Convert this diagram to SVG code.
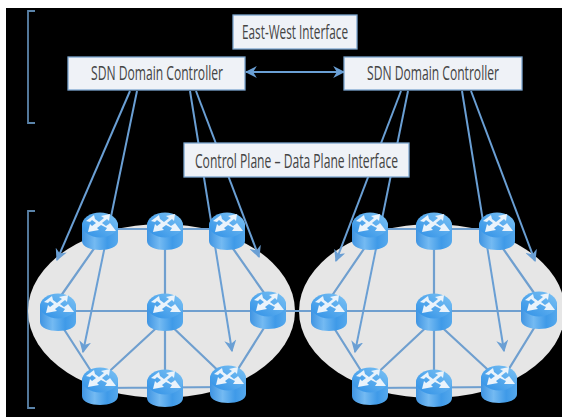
<svg xmlns="http://www.w3.org/2000/svg" width="562" height="417" viewBox="0 0 562 417">
<style>
.box{fill:#eff2f7;stroke:#7ba5cf;stroke-width:1.3}
.lbl{font-family:"Open Sans","Noto Sans",sans-serif;font-size:20px;fill:#444;text-anchor:middle}
.cl{stroke:#6a9fd4;stroke-width:2;fill:none}
.nl{stroke:#6f9fcf;stroke-width:2.200;fill:none}
.br{stroke:#5b84aa;stroke-width:1.800;fill:none}
.net{fill:#e6e6e6}
</style>
<defs>
<linearGradient id="body" x1="0" x2="1" y1="0" y2="0">
<stop offset="0" stop-color="#3f94e2"/><stop offset=".35" stop-color="#74baf2"/><stop offset=".7" stop-color="#3f9ae8"/><stop offset="1" stop-color="#55a8ec"/>
</linearGradient>
<linearGradient id="top" x1="0" x2="1" y1="1" y2="0">
<stop offset="0" stop-color="#2f90e6"/><stop offset="1" stop-color="#7cc2f4"/>
</linearGradient>
<filter id="soft" x="-10%" y="-10%" width="120%" height="120%"><feGaussianBlur stdDeviation="0.6"/></filter>
<marker id="ah" viewBox="0 0 10 10" refX="9" refY="5" markerWidth="12" markerHeight="12" markerUnits="userSpaceOnUse" orient="auto-start-reverse">
<path d="M0 0L10 5L0 10L3 5Z" fill="#6a9fd4"/>
</marker>
<g id="router">
<path d="M-18-7V10C-18 16-9 19 0 19S18 16 18 10V-7Z" fill="url(#body)"/>
<ellipse cy="-6" rx="18" ry="12.500" fill="url(#top)"/>
<path d="M-14-10l8-6 1 4 4 3 5-4-3-2 9-2-1 7-2-2-5 4 4 3 3-2 1-1 6 8-11 0 2-3-6-3-4 3 2 2-11 2 2-8 2 2 4-3-4-3-2 2z" fill="#eaf3fb" filter="url(#soft)"/>
</g>
</defs>
<rect width="562" height="417" fill="#fff"/>
<rect x="6" y="8" width="556" height="409" fill="#000"/>
<g id="brackets">
<path class="br" d="M35 11H28V123H35"/>
<path class="br" d="M35 211H28V408H35"/>
</g>
<g id="network-areas">
<ellipse id="domain-left" class="net" cx="161.500" cy="311" rx="133.500" ry="87"/>
<ellipse id="domain-right" class="net" cx="432" cy="311" rx="133" ry="87"/>
</g>
<g id="connectors">
<g id="links">
<path class="nl" d="M100 229H227M165 232V389M58 311H539M100 240L58 300M58 320L100 385M165 320L100 380M165 320L228 380M100 388L228 387M227 240L269 300M269 320L228 385"/>
<path class="nl" d="M370 229H497M434 232V389M370 240L329 300M329 320L370 385M434 320L370 380M434 320L499 380M370 388L499 387M497 240L539 300M539 320L499 385"/>
</g>
<g id="control-lines">
<path class="cl" marker-end="url(#ah)" d="M130 91L57 260"/>
<path class="cl" marker-end="url(#ah)" d="M137 91L83 352"/>
<path class="cl" marker-end="url(#ah)" d="M190 91L232 351"/>
<path class="cl" marker-end="url(#ah)" d="M196 91L259 257"/>
<path class="cl" marker-end="url(#ah)" d="M401 91L336 261"/>
<path class="cl" marker-end="url(#ah)" d="M408 91L355 352"/>
<path class="cl" marker-end="url(#ah)" d="M462 91L504 351"/>
<path class="cl" marker-end="url(#ah)" d="M471 91L535 261"/>
</g>
<path id="east-west-link" class="cl" marker-start="url(#ah)" marker-end="url(#ah)" d="M246 72H344"/>
</g>
<g id="routers-left">
<g id="r1"><use href="#router" x="100" y="231"/></g>
<g id="r2"><use href="#router" x="165" y="231"/></g>
<g id="r3"><use href="#router" x="227" y="231"/></g>
<g id="r4"><use href="#router" x="58" y="312"/></g>
<g id="r5"><use href="#router" x="165" y="312"/></g>
<g id="r6"><use href="#router" x="268" y="310"/></g>
<g id="r7"><use href="#router" x="100" y="386"/></g>
<g id="r8"><use href="#router" x="165" y="388"/></g>
<g id="r9"><use href="#router" x="228" y="384"/></g>
</g>
<g id="routers-right">
<g id="r10"><use href="#router" x="370" y="231"/></g>
<g id="r11"><use href="#router" x="434" y="231"/></g>
<g id="r12"><use href="#router" x="497" y="231"/></g>
<g id="r13"><use href="#router" x="329" y="312"/></g>
<g id="r14"><use href="#router" x="434" y="312"/></g>
<g id="r15"><use href="#router" x="539" y="310"/></g>
<g id="r16"><use href="#router" x="370" y="386"/></g>
<g id="r17"><use href="#router" x="434" y="388"/></g>
<g id="r18"><use href="#router" x="499" y="384"/></g>
</g>
<g id="controller-left">
<rect class="box" x="68" y="57" width="177" height="33"/>
<text class="lbl" x="157" y="80" textLength="132" lengthAdjust="spacingAndGlyphs">SDN Domain Controller</text>
</g>
<g id="controller-right">
<rect class="box" x="344" y="57" width="178" height="33"/>
<text class="lbl" x="433" y="80" textLength="132" lengthAdjust="spacingAndGlyphs">SDN Domain Controller</text>
</g>
<g id="east-west-label">
<rect class="box" x="233" y="15" width="124" height="34"/>
<text class="lbl" x="295" y="39" textLength="106" lengthAdjust="spacingAndGlyphs">East-West Interface</text>
</g>
<g id="interface-label">
<rect class="box" x="184" y="143" width="225" height="34"/>
<text class="lbl" x="296.500" y="168" textLength="203" lengthAdjust="spacingAndGlyphs">Control Plane – Data Plane Interface</text>
</g>
</svg>
